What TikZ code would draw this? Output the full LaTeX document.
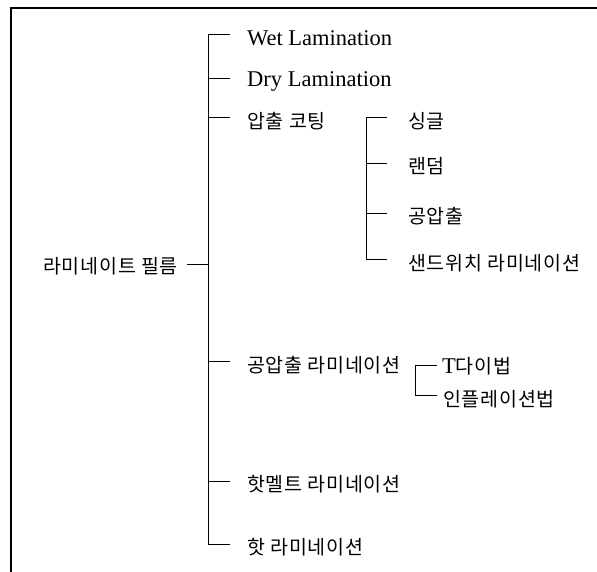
\documentclass[tikz,border=0pt]{standalone}
\usepackage{fontspec}
\setmainfont{Liberation Serif}
\newfontfamily\krfont[LetterSpace=4]{Noto Sans CJK KR}
\begin{document}
\begin{tikzpicture}[x=1pt,y=-1pt,
  lat/.style={anchor=west,inner sep=0pt,font=\fontsize{22.5}{26}\selectfont},
  kr/.style={anchor=west,inner sep=0pt,font=\krfont\fontsize{19.5}{23}\selectfont},
  tree/.style={line width=0.9pt,black},
  frame/.style={line width=1.8pt,black}]
\useasboundingbox (0,0) rectangle (597,571);
% frame
\coordinate (fbl) at (11,572);
\coordinate (ftl) at (11,8);
\coordinate (ftr) at (598,8);
\draw[frame] (fbl) -- (ftl) -- (ftr);
% root
\node[kr] (root) at (43,266) {라미네이트 필름};
\coordinate (rootR) at (187,264);
\coordinate (rootT) at (208,264);
\draw[tree] (rootR) -- (rootT);
% main branches
\coordinate (wetL) at (208,34); \coordinate (wetR) at (230,34);
\coordinate (dryL) at (208,78); \coordinate (dryR) at (230,78);
\coordinate (extL) at (208,117); \coordinate (extR) at (230,117);
\coordinate (coxL) at (208,361); \coordinate (coxR) at (230,361);
\coordinate (hmL) at (208,481); \coordinate (hmR) at (230,481);
\coordinate (hotL) at (208,544); \coordinate (hotR) at (230,544);
\draw[tree] (wetR) -- (wetL) -- (hotL) -- (hotR);
\draw[tree] (dryL) -- (dryR);
\draw[tree] (extL) -- (extR);
\draw[tree] (coxL) -- (coxR);
\draw[tree] (hmL) -- (hmR);
\node[lat] (wet) at (247,38) {Wet Lamination};
\node[lat] (dry) at (247,81) {Dry Lamination};
\node[kr] (ext) at (247,121) {압출 코팅};
\node[kr] (cox) at (247,365) {공압출 라미네이션};
\node[kr] (hm) at (247,484) {핫멜트 라미네이션};
\node[kr] (hot) at (247,547) {핫 라미네이션};
% sub tree 1
\coordinate (s1L) at (366,117); \coordinate (s1R) at (387,117);
\coordinate (s2L) at (366,163); \coordinate (s2R) at (387,163);
\coordinate (s3L) at (366,213); \coordinate (s3R) at (387,213);
\coordinate (s4L) at (366,259); \coordinate (s4R) at (387,259);
\draw[tree] (s1R) -- (s1L) -- (s4L) -- (s4R);
\draw[tree] (s2L) -- (s2R);
\draw[tree] (s3L) -- (s3R);
\node[kr] (single) at (408,121) {싱글};
\node[kr] (random) at (408,166) {랜덤};
\node[kr] (coext) at (408,216) {공압출};
\node[kr] (sand) at (408,263) {샌드위치 라미네이션};
% sub tree 2
\coordinate (t1L) at (415,365); \coordinate (t1R) at (437,365);
\coordinate (t2L) at (415,395); \coordinate (t2R) at (437,395);
\draw[tree] (t1R) -- (t1L) -- (t2L) -- (t2R);
\node[kr] (tdie) at (442,366) {{\rmfamily\fontsize{22.5}{26}\selectfont T}다이법};
\node[kr] (infl) at (443,399) {인플레이션법};
\end{tikzpicture}
\end{document}
